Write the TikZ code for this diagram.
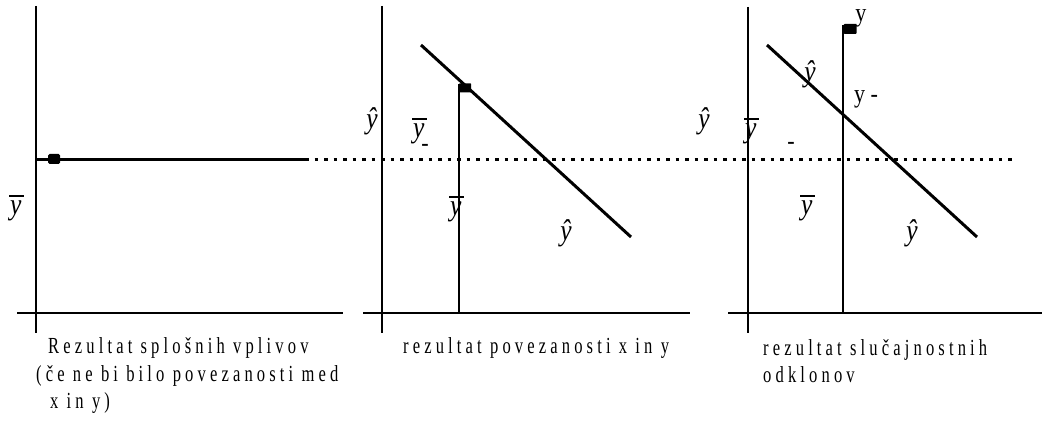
\documentclass[tikz,border=0pt]{standalone}
\usepackage{fontspec}
\setmainfont{Liberation Serif}
\newfontfamily\capfont[FakeStretch=0.72,LetterSpace=18]{Liberation Serif}
\newfontfamily\labfont[FakeStretch=0.85]{Liberation Serif}
\newcommand{\yb}{{\itshape y}\kern-0.40em\raisebox{0.6em}{\rule{0.48em}{1.6pt}}}
\tikzset{
  axis/.style={line width=2.4pt},
  thick line/.style={line width=3pt},
  dotline/.style={line width=3pt, dash pattern=on 3.5pt off 6pt},
  captext/.style={font=\capfont\fontsize{23}{27.5}\selectfont, anchor=base west, inner sep=0pt},
  lab/.style={font=\labfont\itshape\fontsize{30}{30}\selectfont, inner sep=0pt},
  up/.style={font=\labfont\fontsize{26}{26}\selectfont, inner sep=0pt},
  blob/.style={fill=black, rounded corners=1.5pt, inner sep=0pt}
}
\begin{document}
\begin{tikzpicture}[x=1pt,y=-1pt]
\useasboundingbox (0,0) rectangle (1042,425);
% ---------- panel 1
\coordinate (a1t) at (36,6);
\coordinate (a1b) at (36,333);
\coordinate (h1l) at (17,313);
\coordinate (h1r) at (343,313);
\draw[axis] (a1t) -- (a1b);
\draw[axis] (h1l) -- (h1r);
\coordinate (m1l) at (36,159.5);
\coordinate (m1r) at (305,159.5);
\draw[line width=3.5pt] (m1l) -- (m1r);
\coordinate (dotend) at (1012,159.5);
\draw[dotline] (m1r) -- (dotend);
\node[blob, minimum width=12pt, minimum height=10pt] (d1) at (54,159) {};
\node[lab] (yb1) at (17,208) {\yb};
\node[captext] (c1a) at (48,353) {Rezultat splošnih vplivov};
\node[captext] (c1b) at (36,381) {(če ne bi bilo povezanosti med};
\node[captext] (c1c) at (50,408) {x in y)};
% ---------- panel 2
\coordinate (a2t) at (382,6);
\coordinate (a2b) at (382,333);
\coordinate (h2l) at (363,313);
\coordinate (h2r) at (690,313);
\draw[axis] (a2t) -- (a2b);
\draw[axis] (h2l) -- (h2r);
\coordinate (v2t) at (459,84);
\coordinate (v2b) at (459,313);
\draw[axis] (v2t) -- (v2b);
\coordinate (g2s) at (421,45);
\coordinate (g2e) at (631,237);
\draw[thick line] (g2s) -- (g2e);
\node[blob, minimum width=12pt, minimum height=9pt, rounded corners=0.5pt] (d2) at (465,88) {};
\node[lab] (yh2a) at (372,121) {ŷ};
\node[lab] (yb2a) at (420,131) {\yb};
\node[up] (m2) at (425,148) {-};
\node[lab] (yb2b) at (457,209) {\yb};
\node[lab] (yh2b) at (566,233) {ŷ};
\node[captext] (c2) at (403,353) {rezultat povezanosti x in y};
% ---------- panel 3
\coordinate (a3t) at (748,7);
\coordinate (a3b) at (748,333);
\coordinate (h3l) at (728,313);
\coordinate (h3r) at (1042,313);
\draw[axis] (a3t) -- (a3b);
\draw[axis] (h3l) -- (h3r);
\coordinate (v3t) at (843,25);
\coordinate (v3b) at (843,313);
\draw[axis] (v3t) -- (v3b);
\coordinate (g3s) at (767,45);
\coordinate (g3e) at (977,237);
\draw[thick line] (g3s) -- (g3e);
\node[blob, minimum width=13pt, minimum height=10pt, rounded corners=1pt] (d3) at (850,29) {};
\node[up] (y3) at (861,18) {y};
\node[up] (ym3) at (866,99) {y -};
\node[lab] (yh3a) at (704,121) {ŷ};
\node[lab] (yh3b) at (810,74) {ŷ};
\node[lab] (yb3a) at (752,131) {\yb};
\node[up] (m3) at (791,146) {-};
\node[lab] (yb3b) at (808,208) {\yb};
\node[lab] (yh3c) at (912,233) {ŷ};
\node[captext] (c3a) at (763,355) {rezultat slučajnostnih};
\node[captext] (c3b) at (763,382) {odklonov};
\end{tikzpicture}
\end{document}
